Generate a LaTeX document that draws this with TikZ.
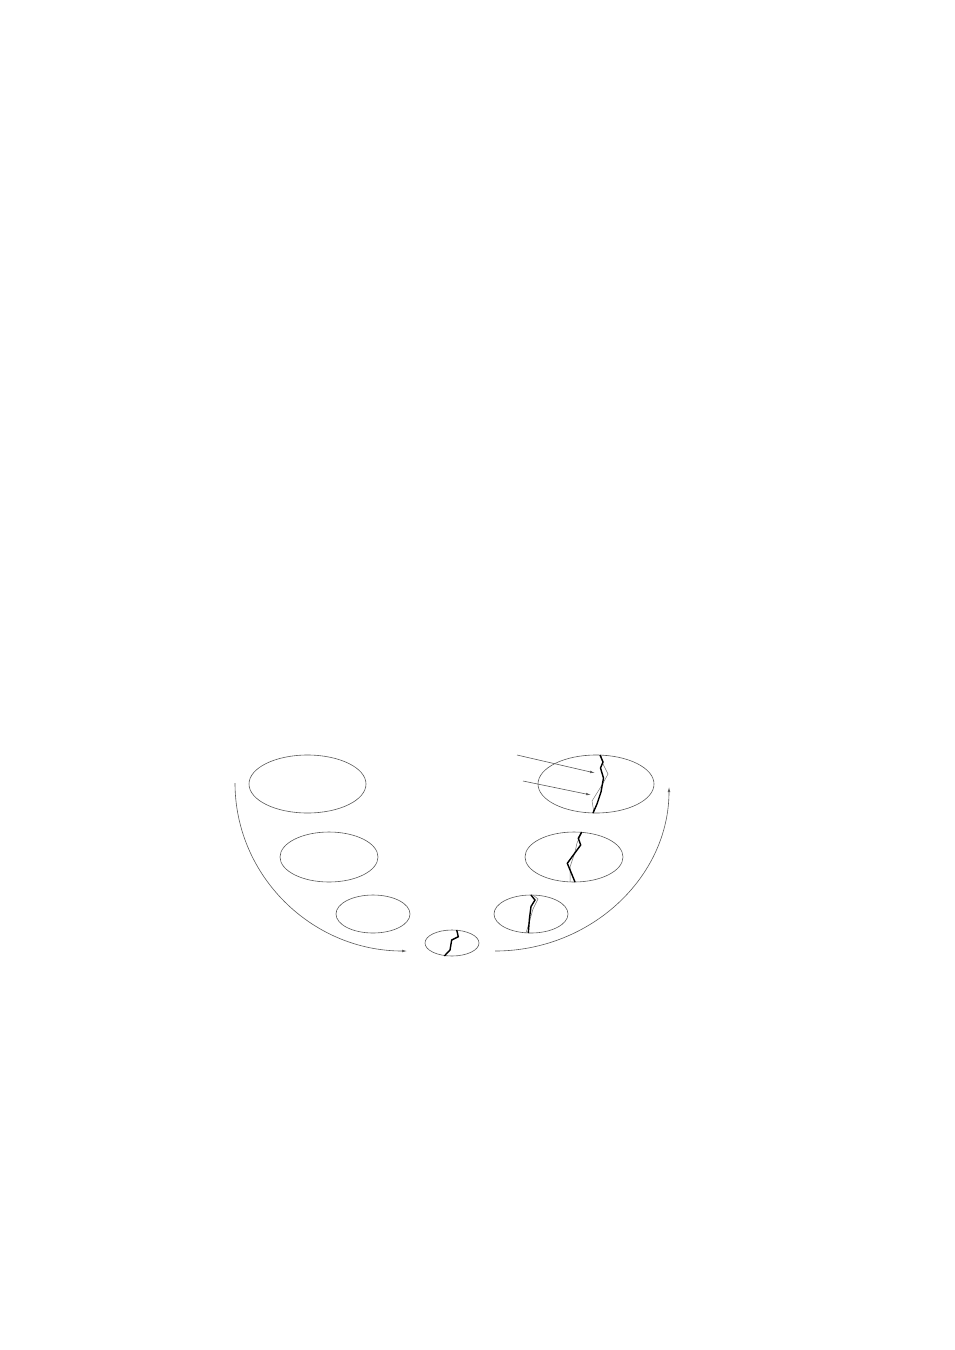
\documentclass[tikz,border=0pt]{standalone}
\usetikzlibrary{shapes.geometric,arrows.meta}
\begin{document}
\begin{tikzpicture}[x=1pt,y=-1pt,
  grain/.style={draw=black!65,line width=0.6pt,ellipse,inner sep=0pt},
  crackthick/.style={line width=1.4pt,black,line join=miter},
  crackthin/.style={line width=0.5pt,black!55},
  flow/.style={draw=black!65,line width=0.6pt,-{Latex[length=5pt,width=2.6pt]}}]
\useasboundingbox (0,0) rectangle (954,1350);
% left column
\node[grain,minimum width=117pt,minimum height=58pt] (L1) at (307.5,784) {};
\node[grain,minimum width=98pt,minimum height=50pt] (L2) at (329,857) {};
\node[grain,minimum width=74pt,minimum height=38pt] (L3) at (373,914) {};
% bottom
\node[grain,minimum width=54pt,minimum height=26pt] (B) at (452,943) {};
% right column
\node[grain,minimum width=116pt,minimum height=58pt] (R1) at (596,784) {};
\node[grain,minimum width=98pt,minimum height=50pt] (R2) at (574,857) {};
\node[grain,minimum width=74pt,minimum height=38pt] (R3) at (531,914) {};
% cracks
\draw[crackthick] (456.7,930) -- (458.3,936.7) -- (451.7,940) -- (450,950) -- (444.3,956);
\draw[crackthin] (533,895) -- (538,899) -- (533,909) -- (529,923) -- (526,933);
\draw[crackthick] (531,895) -- (535,900) -- (531,906.5) -- (529.5,918) -- (528.3,933);
\draw[crackthin] (582,832) -- (577,843) -- (575,852) -- (570,867) -- (570,882);
\draw[crackthick] (581.7,832) -- (578.3,838.3) -- (580.7,845) -- (567.3,863.3) -- (575,882);
\draw[crackthin] (601,755) -- (603,764) -- (608,774) -- (602,785) -- (592,801) -- (594,813);
\draw[crackthick] (600,755) -- (603,762) -- (600.5,768) -- (603.5,778) -- (601,792) -- (597,804) -- (593,813);
% pointer arrows
\coordinate (p1s) at (517,755);
\coordinate (p1e) at (595,773);
\coordinate (p2s) at (523,781);
\coordinate (p2e) at (591,795);
\draw[flow] (p1s) -- (p1e);
\draw[flow] (p2s) -- (p2e);
% big arcs
\coordinate (a1s) at (235,783);
\coordinate (a1e) at (407,951);
\coordinate (a2s) at (495,951);
\coordinate (a2e) at (669,787);
\draw[flow] (a1s) .. controls (235,876) and (312,951) .. (a1e);
\draw[flow] (a2s) .. controls (591,951) and (669,877) .. (a2e);
\end{tikzpicture}
\end{document}
